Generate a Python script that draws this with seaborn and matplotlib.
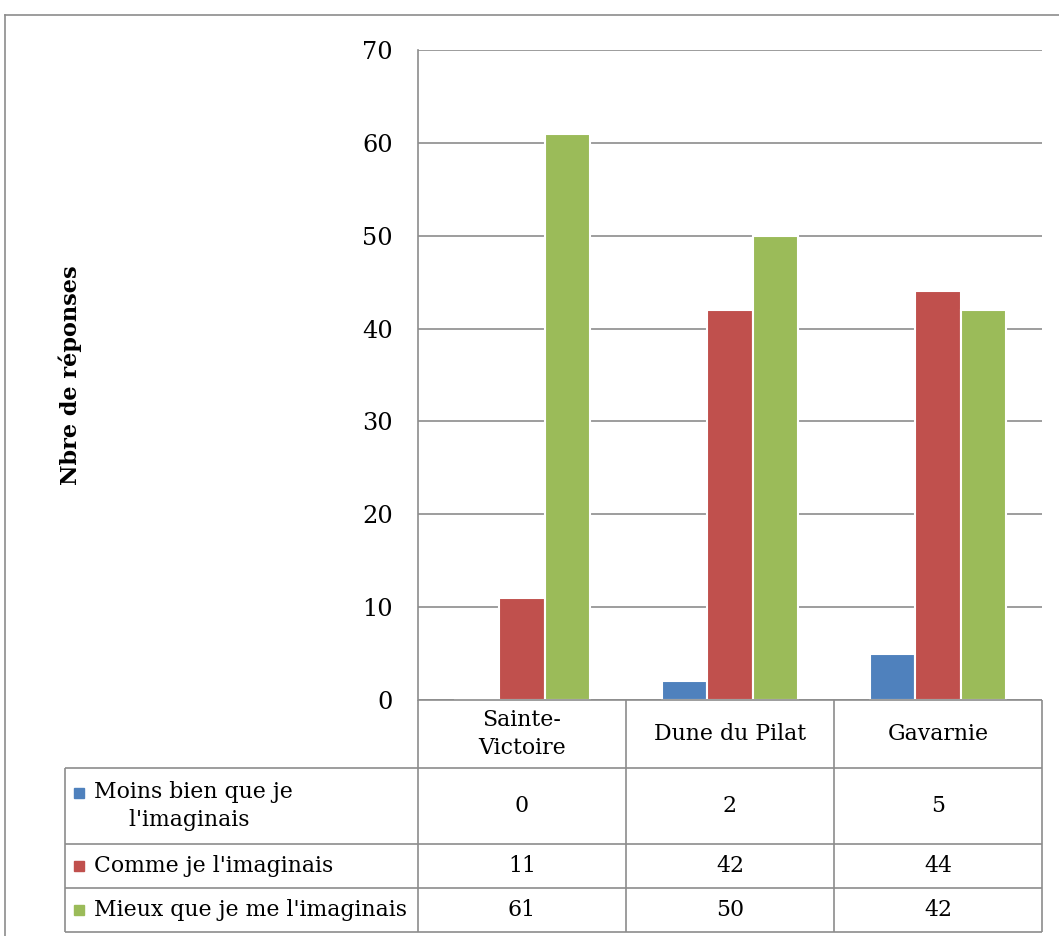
"""Bar chart with Excel-style data table: ressenti par site."""

import matplotlib
matplotlib.use("Agg")
import matplotlib.pyplot as plt
import numpy as np
import pandas as pd
import seaborn as sns

SITES = ["Sainte-Victoire", "Dune du Pilat", "Gavarnie"]
SITE_LABELS = ["Sainte-\nVictoire", "Dune du Pilat", "Gavarnie"]
SERIES = ["Moins bien que je l'imaginais", "Comme je l'imaginais",
          "Mieux que je me l'imaginais"]
SERIES_LABELS = ["Moins bien que je\n     l'imaginais", "Comme je l'imaginais",
                 "Mieux que je me l'imaginais"]
MOINS = [0, 2, 5]
COMME = [11, 42, 44]
MIEUX = [61, 50, 42]
COLORS = ["#4F81BD", "#C0504D", "#9BBB59"]

W, H = 1059, 936
GRID = "#8c8c8c"
FONT = "DejaVu Serif"
FS = 15.8

sns.set_theme(style="white")
plt.rcParams["font.family"] = [FONT]
plt.rcParams["text.color"] = "black"
plt.rcParams["ytick.color"] = "black"

df = pd.DataFrame({
    "site": np.repeat(SITES, 3),
    "reponse": SERIES * 3,
    "n": [v for trio in zip(MOINS, COMME, MIEUX) for v in trio],
})

fig = plt.figure(figsize=(W / 100, H / 100), dpi=100)

# outer frame (top + left)
frame = fig.add_axes([5 / W, 0, 1 - 5 / W, (H - 15) / H])
frame.set_xticks([])
frame.set_yticks([])
frame.patch.set_alpha(0)
for side in ["right", "bottom"]:
    frame.spines[side].set_visible(False)
for side in ["top", "left"]:
    frame.spines[side].set_color(GRID)
    frame.spines[side].set_linewidth(1.2)

# bar chart
x0, x1, ytop, ybot = 418, 1042, 50, 700
ax = fig.add_axes([x0 / W, (H - ybot) / H, (x1 - x0) / W, (ybot - ytop) / H])
sns.barplot(data=df, x="site", y="n", hue="reponse", order=SITES,
            hue_order=SERIES, palette=COLORS, width=0.65, saturation=1,
            edgecolor="white", linewidth=1.5, ax=ax, legend=False, zorder=3)
ax.set_ylim(0, 70)
ax.set_xlim(-0.5, 2.5)
ax.set_yticks(range(0, 71, 10))
ax.yaxis.grid(True, color=GRID, linewidth=1.2, zorder=0)
ax.set_axisbelow(True)
ax.set_xticks([])
ax.set_xlabel("")
ax.set_ylabel("")
ax.tick_params(axis="y", length=0, pad=18, labelsize=FS + 1.5, labelcolor="black")
for side in ["top", "right", "bottom"]:
    ax.spines[side].set_visible(False)
ax.spines["left"].set_color(GRID)
ax.spines["left"].set_linewidth(1.2)

fig.text(70 / W, (H - 375) / H, "Nbre de réponses", rotation=90,
         ha="center", va="center", fontsize=FS + 0.3, fontweight="bold")

# data table below the chart
rows = [0, 68, 144, 188, 232]  # row boundaries, pixels from chart bottom
tbl = fig.add_axes([x0 / W, (H - 932) / H, (x1 - x0) / W, 232 / H])
tbl.set_xlim(-0.5, 2.5)
tbl.set_ylim(rows[-1], 0)
tbl.axis("off")
px = 3 / (x1 - x0)  # data units per pixel
left = -0.5 - (x0 - 65) * px

kw = dict(color=GRID, linewidth=1.2, clip_on=False)
tbl.hlines(rows[0], -0.5, 2.5, **kw)
tbl.hlines(rows[1:], left, 2.5, **kw)
tbl.vlines([-0.5, 0.5, 1.5, 2.5], rows[0], rows[-1], **kw)
tbl.vlines(left, rows[1], rows[-1], **kw)

for i, lab in enumerate(SITE_LABELS):
    tbl.text(i, (rows[0] + rows[1]) / 2, lab, ha="center", va="center",
             fontsize=FS, linespacing=1.35)

values = [MOINS, COMME, MIEUX]
for r, (lab, vals, col) in enumerate(zip(SERIES_LABELS, values, COLORS)):
    yc = (rows[r + 1] + rows[r + 2]) / 2
    tbl.plot(left + 14 * px, rows[1] + 25 if r == 0 else yc, marker="s",
             color=col, markersize=7, clip_on=False)
    tbl.text(left + 29 * px, yc, lab, ha="left", va="center",
             fontsize=FS, linespacing=1.35)
    for i, v in enumerate(vals):
        tbl.text(i, yc, str(v), ha="center", va="center", fontsize=FS)

fig.savefig("out.png", dpi=100)
